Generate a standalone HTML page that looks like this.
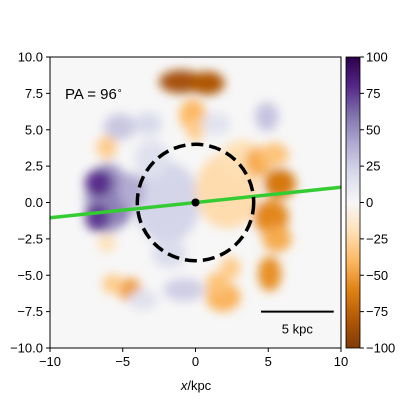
<!DOCTYPE html>
<html><head><meta charset="utf-8"><style>
body{margin:0;background:#fff;}
svg text{font-family:"Liberation Sans",sans-serif;}
</style></head><body>
<svg id="chart" width="400" height="400" viewBox="0 0 400 400" xmlns="http://www.w3.org/2000/svg">
<defs>
<filter id="blur" x="-50%" y="-50%" width="200%" height="200%"><feGaussianBlur stdDeviation="5"/></filter>
<clipPath id="axclip"><rect x="50" y="57" width="291" height="291"/></clipPath>
<linearGradient id="cbgrad" x1="0" y1="1" x2="0" y2="0">
<stop offset="0" stop-color="#7f3b08"/><stop offset="0.1" stop-color="#b35806"/><stop offset="0.2" stop-color="#e08214"/><stop offset="0.3" stop-color="#fdb863"/><stop offset="0.4" stop-color="#fee0b6"/><stop offset="0.5" stop-color="#f7f7f7"/><stop offset="0.6" stop-color="#d8daeb"/><stop offset="0.7" stop-color="#b2abd2"/><stop offset="0.8" stop-color="#8073ac"/><stop offset="0.9" stop-color="#542788"/><stop offset="1" stop-color="#2d004b"/>
</linearGradient>
</defs>
<rect x="50" y="57" width="291" height="291" fill="#f7f7f7"/>
<g id="blobs" clip-path="url(#axclip)" filter="url(#blur)"></g>
<g id="overlay" clip-path="url(#axclip)"></g>
<rect x="50" y="57" width="291" height="291" fill="none" stroke="#000" stroke-width="1"/>
<g id="axes"></g>
<rect x="346" y="57" width="14" height="291" fill="url(#cbgrad)" stroke="#000" stroke-width="0.8"/>
<g id="cbticks"></g>
<text x="196" y="390" font-size="13" text-anchor="middle"><tspan font-style="italic">x</tspan>/kpc</text>
<text x="65" y="99" font-size="15">PA = 96<tspan font-size="9" dy="-6">∘</tspan></text>
</svg>
<script>
const blobX=[-2.0,2.2,-3.0,3.2,-1.0,0.8,-0.2,0.0,-6.0,-6.6,-6.7,-5.2,-4.4,5.8,5.2,5.6,4.3,5.4,5.1,1.9,1.5,2.4,-4.5,-5.7,-6.1,-6.1,-5.2,-3.3,4.9,1.4,-0.8,-3.6,-1.8];
const blobY=[0.0,0.8,3.0,3.0,8.3,8.2,6.0,5.0,0.3,1.3,-1.0,0.0,0.8,1.3,-1.0,-2.5,2.8,3.3,-4.9,-6.5,-5.6,-4.5,-6.0,-5.6,3.8,-2.8,5.2,5.4,5.9,5.4,-6.0,-6.7,-3.5];
const blobRx=[2.3,2.2,1.2,1.5,1.5,1.2,0.9,0.6,1.6,1.0,0.9,0.9,0.9,1.1,1.2,1.0,0.9,1.0,0.8,1.2,0.8,0.7,0.8,0.7,0.7,0.6,1.1,1.0,0.8,1.0,1.4,1.0,1.2];
const blobRy=[2.8,2.6,1.3,1.3,0.8,0.8,1.1,0.8,2.4,1.0,1.0,1.6,1.2,1.0,1.2,0.9,1.0,0.8,1.2,1.0,0.8,0.8,0.8,0.7,0.8,0.6,0.9,0.8,1.0,0.8,0.8,0.7,1.0];
const blobV=[22,-22,15,-20,-85,-82,-40,-30,45,78,75,55,40,-65,-58,-45,-45,-35,-55,-42,-35,-30,-50,-30,-30,-20,28,20,30,14,25,15,18];
const xTicks=[-10,-5,0,5,10];
const yTicks=[-10,-7.5,-5,-2.5,0,2.5,5,7.5,10];
const cbTicks=[-100,-75,-50,-25,0,25,50,75,100];
const paDeg=[96];
const circleR=[4];
const scaleBar=[4.5,9.5,-7.5];
const NS='http://www.w3.org/2000/svg';
const sx=v=>50+(v+10)*291/20, sy=v=>348-(v+10)*291/20, cy=v=>348-(v+100)*291/200;
const stops=['#7f3b08','#b35806','#e08214','#fdb863','#fee0b6','#f7f7f7','#d8daeb','#b2abd2','#8073ac','#542788','#2d004b'];
function hex(h){return[1,3,5].map(i=>parseInt(h.substr(i,2),16));}
function cmap(v){let t=(v+100)/200*10;t=Math.max(0,Math.min(10,t));const i=Math.min(9,Math.floor(t)),f=t-i;const a=hex(stops[i]),b=hex(stops[i+1]);return 'rgb('+a.map((c,k)=>Math.round(c+(b[k]-c)*f)).join(',')+')';}
function el(tag,attrs,parent){const e=document.createElementNS(NS,tag);for(const k in attrs)e.setAttribute(k,attrs[k]);parent.appendChild(e);return e;}
const gb=document.getElementById('blobs');
for(let i=0;i<blobV.length;i++){
 const e=el('ellipse',{cx:sx(blobX[i]),cy:sy(blobY[i]),rx:blobRx[i]*14.55,ry:blobRy[i]*14.55,fill:cmap(blobV[i])},gb);
 
 
}
const ov=document.getElementById('overlay');
const th=(paDeg[0]-90)*Math.PI/180, sl=Math.tan(th);
const ln=el('line',{x1:sx(-10),y1:sy(-10*sl),x2:sx(10),y2:sy(10*sl),stroke:'#33cc33','stroke-width':3.5},ov);


const c=el('circle',{cx:sx(0),cy:sy(0),r:circleR[0]*14.55,fill:'none',stroke:'#000','stroke-width':3.5,'stroke-dasharray':'12 6'},ov);


const d=el('circle',{cx:sx(0),cy:sy(0),r:4,fill:'#000'},ov);


const sb=el('line',{x1:sx(scaleBar[0]),y1:sy(scaleBar[2]),x2:sx(scaleBar[1]),y2:sy(scaleBar[2]),stroke:'#000','stroke-width':2},ov);


const st=el('text',{x:sx((scaleBar[0]+scaleBar[1])/2),y:sy(-9.0),'font-size':13,'text-anchor':'middle'},ov);
st.textContent='5 kpc';


const ax=document.getElementById('axes');
xTicks.forEach(v=>{el('line',{x1:sx(v),x2:sx(v),y1:348,y2:352,stroke:'#000'},ax);const t=el('text',{x:sx(v),y:366,'font-size':13,'text-anchor':'middle'},ax);t.textContent=v<0?'−'+(-v):v;
 
 });
yTicks.forEach(v=>{el('line',{x1:46,x2:50,y1:sy(v),y2:sy(v),stroke:'#000'},ax);const t=el('text',{x:43,y:sy(v)+4.5,'font-size':13,'text-anchor':'end'},ax);t.textContent=(v<0?'−':'')+Math.abs(v).toFixed(1);
 
 });
const cb=document.getElementById('cbticks');
cbTicks.forEach(v=>{el('line',{x1:360,x2:364,y1:cy(v),y2:cy(v),stroke:'#000'},cb);const t=el('text',{x:366,y:cy(v)+4.5,'font-size':13},cb);t.textContent=v<0?'−'+(-v):v;
 
 });
</script>
</body></html>
